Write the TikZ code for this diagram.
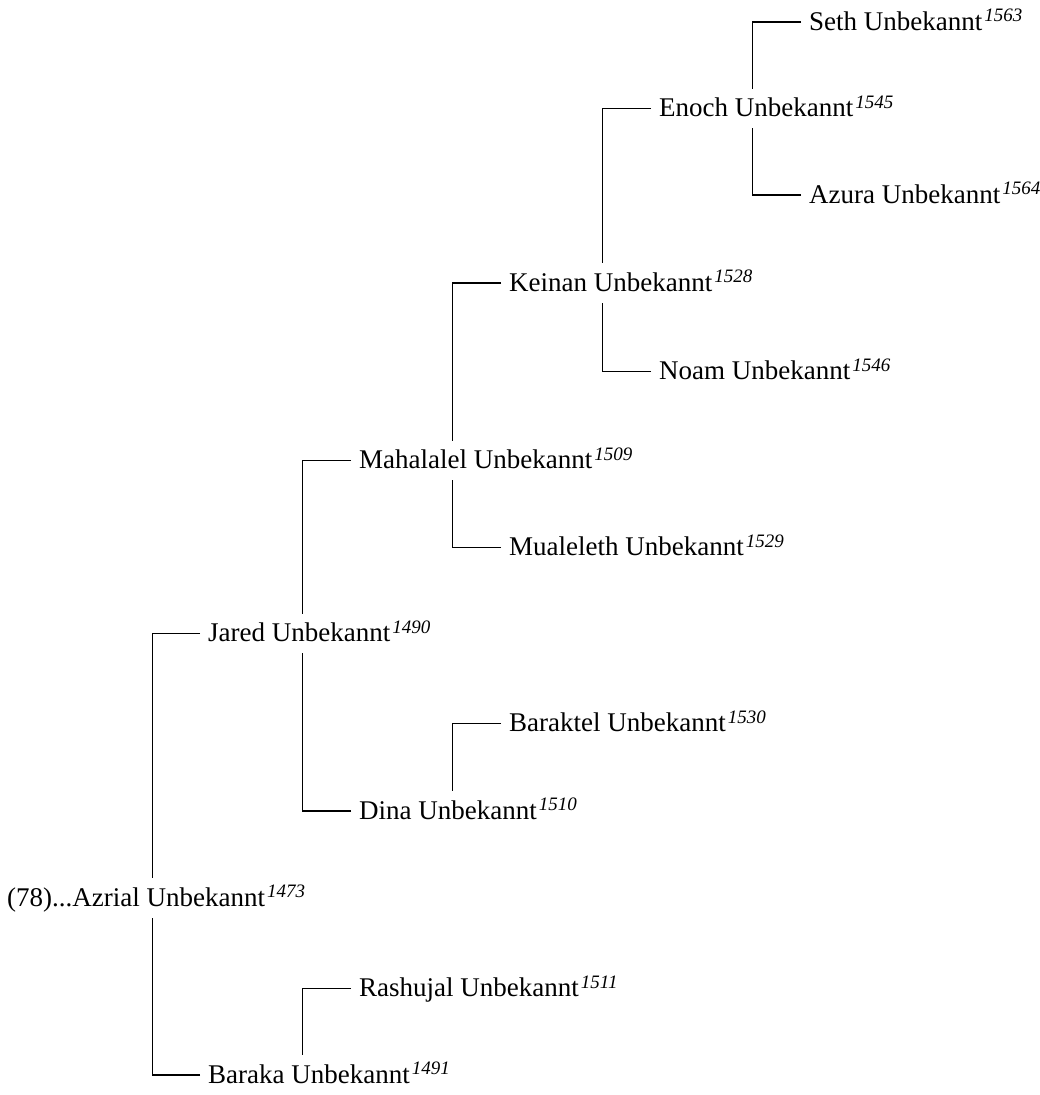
\documentclass[tikz,border=0pt]{standalone}
\usepackage{fontspec}
\setmainfont{Liberation Serif}
\newcommand\yr[1]{\kern2pt\raisebox{8.5pt}{\fontsize{19}{19}\selectfont\itshape #1}}
\begin{document}
\begin{tikzpicture}[x=1pt,y=-1pt,
  person/.style={anchor=west,inner sep=0pt,text height=27.5pt,text depth=11.5pt,
    font=\fontsize{27}{31}\selectfont},
  link/.style={line width=1.4pt,draw=black}]
\useasboundingbox (0,0) rectangle (1040,1095);
% columns of vertical lines
\coordinate (v0) at (152.7,0);
\coordinate (v1) at (302.7,0);
\coordinate (v2) at (452.7,0);
\coordinate (v3) at (602.7,0);
\coordinate (v4) at (752.7,0);
% people
\node[person] (azrial) at (7,898) {(78)...Azrial Unbekannt\yr{1473}};
\node[person] (jared) at (208,633.5) {Jared Unbekannt\yr{1490}};
\node[person] (baraka) at (208,1075) {Baraka Unbekannt\yr{1491}};
\node[person] (mahalalel) at (359,460.5) {Mahalalel Unbekannt\yr{1509}};
\node[person] (dina) at (359,811) {Dina Unbekannt\yr{1510}};
\node[person] (rashujal) at (359,988.5) {Rashujal Unbekannt\yr{1511}};
\node[person] (keinan) at (509,283) {Keinan Unbekannt\yr{1528}};
\node[person] (mualeleth) at (509,547.5) {Mualeleth Unbekannt\yr{1529}};
\node[person] (baraktel) at (509,723.5) {Baraktel Unbekannt\yr{1530}};
\node[person] (enoch) at (659,108.5) {Enoch Unbekannt\yr{1545}};
\node[person] (noam) at (659,371.5) {Noam Unbekannt\yr{1546}};
\node[person] (seth) at (809,22) {Seth Unbekannt\yr{1563}};
\node[person] (azura) at (809,195) {Azura Unbekannt\yr{1564}};
% connectors
\draw[link] ([xshift=-8pt]jared.west) -| (v0 |- azrial.north);
\draw[link] ([xshift=-8pt]baraka.west) -| (v0 |- azrial.south);
\draw[link] ([xshift=-8pt]mahalalel.west) -| (v1 |- jared.north);
\draw[link] ([xshift=-8pt]dina.west) -| (v1 |- jared.south);
\draw[link] ([xshift=-8pt]rashujal.west) -| (v1 |- baraka.north);
\draw[link] ([xshift=-8pt]keinan.west) -| (v2 |- mahalalel.north);
\draw[link] ([xshift=-8pt]mualeleth.west) -| (v2 |- mahalalel.south);
\draw[link] ([xshift=-8pt]baraktel.west) -| (v2 |- dina.north);
\draw[link] ([xshift=-8pt]enoch.west) -| (v3 |- keinan.north);
\draw[link] ([xshift=-8pt]noam.west) -| (v3 |- keinan.south);
\draw[link] ([xshift=-8pt]seth.west) -| (v4 |- enoch.north);
\draw[link] ([xshift=-8pt]azura.west) -| (v4 |- enoch.south);
\end{tikzpicture}
\end{document}
